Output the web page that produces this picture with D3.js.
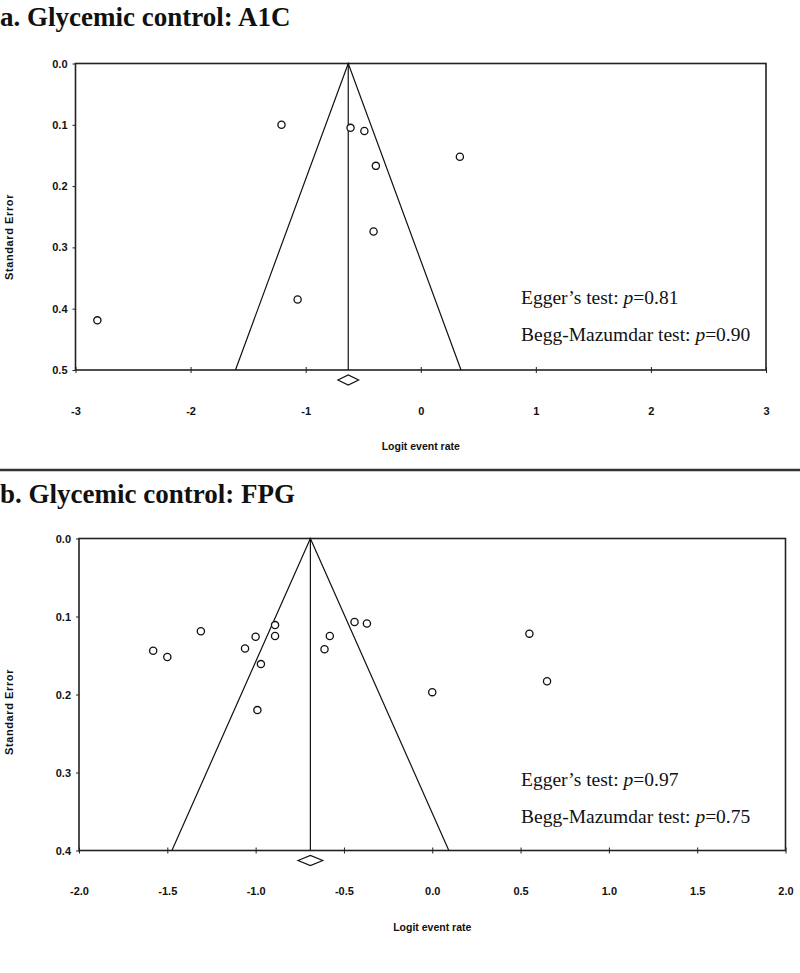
<!DOCTYPE html>
<html>
<head>
<meta charset="utf-8">
<script src="https://cdnjs.cloudflare.com/ajax/libs/d3/7.8.5/d3.min.js"></script>
<style>
body { margin: 0; background: #fff; }
svg { display: block; }
.axis text { font-family: "Liberation Sans", Arial, sans-serif; font-weight: bold; font-size: 11px; fill: #111; }
.axis line { stroke: #222; }
.title { font-family: "Liberation Serif", "Times New Roman", serif; font-weight: bold; font-size: 27px; fill: #111; }
.note { font-family: "Liberation Serif", "Times New Roman", serif; font-size: 19.5px; fill: #111; }
.alabel { font-family: "Liberation Sans", Arial, sans-serif; font-weight: bold; font-size: 10.5px; fill: #111; }
</style>
</head>
<body>
<svg id="chart" width="800" height="973"></svg>
<script>
// panel a - A1C studies (logit event rate, standard error)
var a1cRate = [-1.21, -0.61, -0.49, 0.34, -0.39, -0.41, -1.07, -2.81];
var a1cSE = [0.100, 0.105, 0.110, 0.152, 0.167, 0.274, 0.385, 0.419];
var a1cPooled = -0.63;
var a1cCI = [-0.72, -0.54];
var a1cXTicks = [-3, -2, -1, 0, 1, 2, 3];
var a1cYTicks = [0.0, 0.1, 0.2, 0.3, 0.4, 0.5];
var a1cPvals = ["0.81", "0.90"];

// panel b - FPG studies
var fpgRate = [-1.58, -1.50, -1.31, -1.06, -1.00, -0.89, -0.89, -0.97, -0.99, -0.61, -0.58, -0.44, -0.37, 0.55, 0.65, 0.00];
var fpgSE = [0.144, 0.152, 0.119, 0.141, 0.126, 0.111, 0.125, 0.161, 0.220, 0.142, 0.125, 0.107, 0.109, 0.122, 0.183, 0.197];
var fpgPooled = -0.69;
var fpgCI = [-0.76, -0.62];
var fpgXTicks = [-2.0, -1.5, -1.0, -0.5, 0.0, 0.5, 1.0, 1.5, 2.0];
var fpgYTicks = [0.0, 0.1, 0.2, 0.3, 0.4];
var fpgPvals = ["0.97", "0.75"];

var svg = d3.select("#chart");

// plain hyphen for negatives, like the original
function hyph(spec) {
	var f = d3.format(spec);
	return function(v) { return f(v).replace("\u2212", "-"); };
}

function drawPanel(p) {
	var g = svg.append("g");
	var x = d3.scaleLinear().domain(d3.extent(p.xTicks)).range([p.left, p.right]);
	var seMax = d3.max(p.yTicks);
	var y = d3.scaleLinear().domain([0, seMax]).range([p.top, p.bottom]);

	g.append("text").attr("class", "title")
		.attr("x", 0).attr("y", p.titleY)
		.text(p.title);

	// axes first, frame drawn over
	var xAxis = g.append("g").attr("class", "axis")
		.attr("transform", "translate(0," + y(seMax) + ")")
		.call(d3.axisBottom(x).tickValues(p.xTicks).tickFormat(p.xFmt).tickSizeOuter(0));
	xAxis.select(".domain").remove();
	xAxis.selectAll(".tick line").attr("y1", -3).attr("y2", 3);
	xAxis.selectAll(".tick text").attr("y", 37);

	var yAxis = g.append("g").attr("class", "axis")
		.attr("transform", "translate(" + p.left + ",0)")
		.call(d3.axisLeft(y).tickValues(p.yTicks).tickFormat(hyph(".1f")).tickSize(3).tickPadding(5));
	yAxis.select(".domain").remove();

	g.append("rect")
		.attr("x", p.left).attr("y", p.top)
		.attr("width", p.right - p.left).attr("height", p.bottom - p.top)
		.attr("fill", "none").attr("stroke", "#222").attr("stroke-width", 1.6);

	// funnel: pooled estimate +/- 1.96 SE
	var lo = p.pooled - 1.96 * seMax, hi = p.pooled + 1.96 * seMax;
	g.append("path")
		.attr("d", d3.line()([[x(lo), y(seMax)], [x(p.pooled), y(0)], [x(hi), y(seMax)]]))
		.attr("fill", "none").attr("stroke", "#111").attr("stroke-width", 1.2);
	g.append("line")
		.attr("x1", x(p.pooled)).attr("x2", x(p.pooled))
		.attr("y1", y(0)).attr("y2", y(seMax))
		.attr("stroke", "#111").attr("stroke-width", 1.2);

	// studies
	g.selectAll(".pt").data(p.rate.map(function(r, i) { return [r, p.se[i]]; }))
		.enter().append("circle")
		.attr("class", "pt")
		.attr("cx", function(d) { return x(d[0]); })
		.attr("cy", function(d) { return y(d[1]); })
		.attr("r", 3.6)
		.attr("fill", "#fff").attr("stroke", "#111").attr("stroke-width", 1.3);

	// summary diamond under the axis
	var dy = y(seMax) + 10;
	g.append("path")
		.attr("d", d3.line()([[x(p.ci[0]), dy], [x(p.pooled), dy - 5], [x(p.ci[1]), dy], [x(p.pooled), dy + 5]]) + "Z")
		.attr("fill", "#fff").attr("stroke", "#111").attr("stroke-width", 1.2);

	g.append("text").attr("class", "alabel")
		.attr("x", (p.left + p.right) / 2).attr("y", y(seMax) + 80)
		.attr("text-anchor", "middle")
		.text("Logit event rate");

	g.append("text").attr("class", "alabel")
		.attr("transform", "translate(13," + p.yLabelY + ") rotate(-90)")
		.attr("text-anchor", "middle")
		.style("font-size", "11px").style("letter-spacing", "0.6px")
		.text("Standard Error");

	var names = ["Egger\u2019s test: ", "Begg-Mazumdar test: "];
	names.forEach(function(n, i) {
		var t = g.append("text").attr("class", "note")
			.attr("x", 521).attr("y", p.noteY + i * 37);
		t.append("tspan").text(n);
		t.append("tspan").style("font-style", "italic").text("p");
		t.append("tspan").text("=" + p.pvals[i]);
	});
}

drawPanel({
	title: "a. Glycemic control: A1C", titleY: 26,
	left: 75.5, right: 766, top: 63.5, bottom: 370,
	xTicks: a1cXTicks, yTicks: a1cYTicks, xFmt: hyph("d"),
	rate: a1cRate, se: a1cSE, pooled: a1cPooled, ci: a1cCI, pvals: a1cPvals,
	yLabelY: 237, noteY: 304
});

// divider between the two panels
svg.append("line")
	.attr("x1", 0).attr("x2", 800).attr("y1", 470).attr("y2", 470)
	.attr("stroke", "#333").attr("stroke-width", 2.5);

drawPanel({
	title: "b. Glycemic control: FPG", titleY: 503,
	left: 79, right: 785.5, top: 538.5, bottom: 850.5,
	xTicks: fpgXTicks, yTicks: fpgYTicks, xFmt: hyph(".1f"),
	rate: fpgRate, se: fpgSE, pooled: fpgPooled, ci: fpgCI, pvals: fpgPvals,
	yLabelY: 712, noteY: 786
});
</script>
</body>
</html>
